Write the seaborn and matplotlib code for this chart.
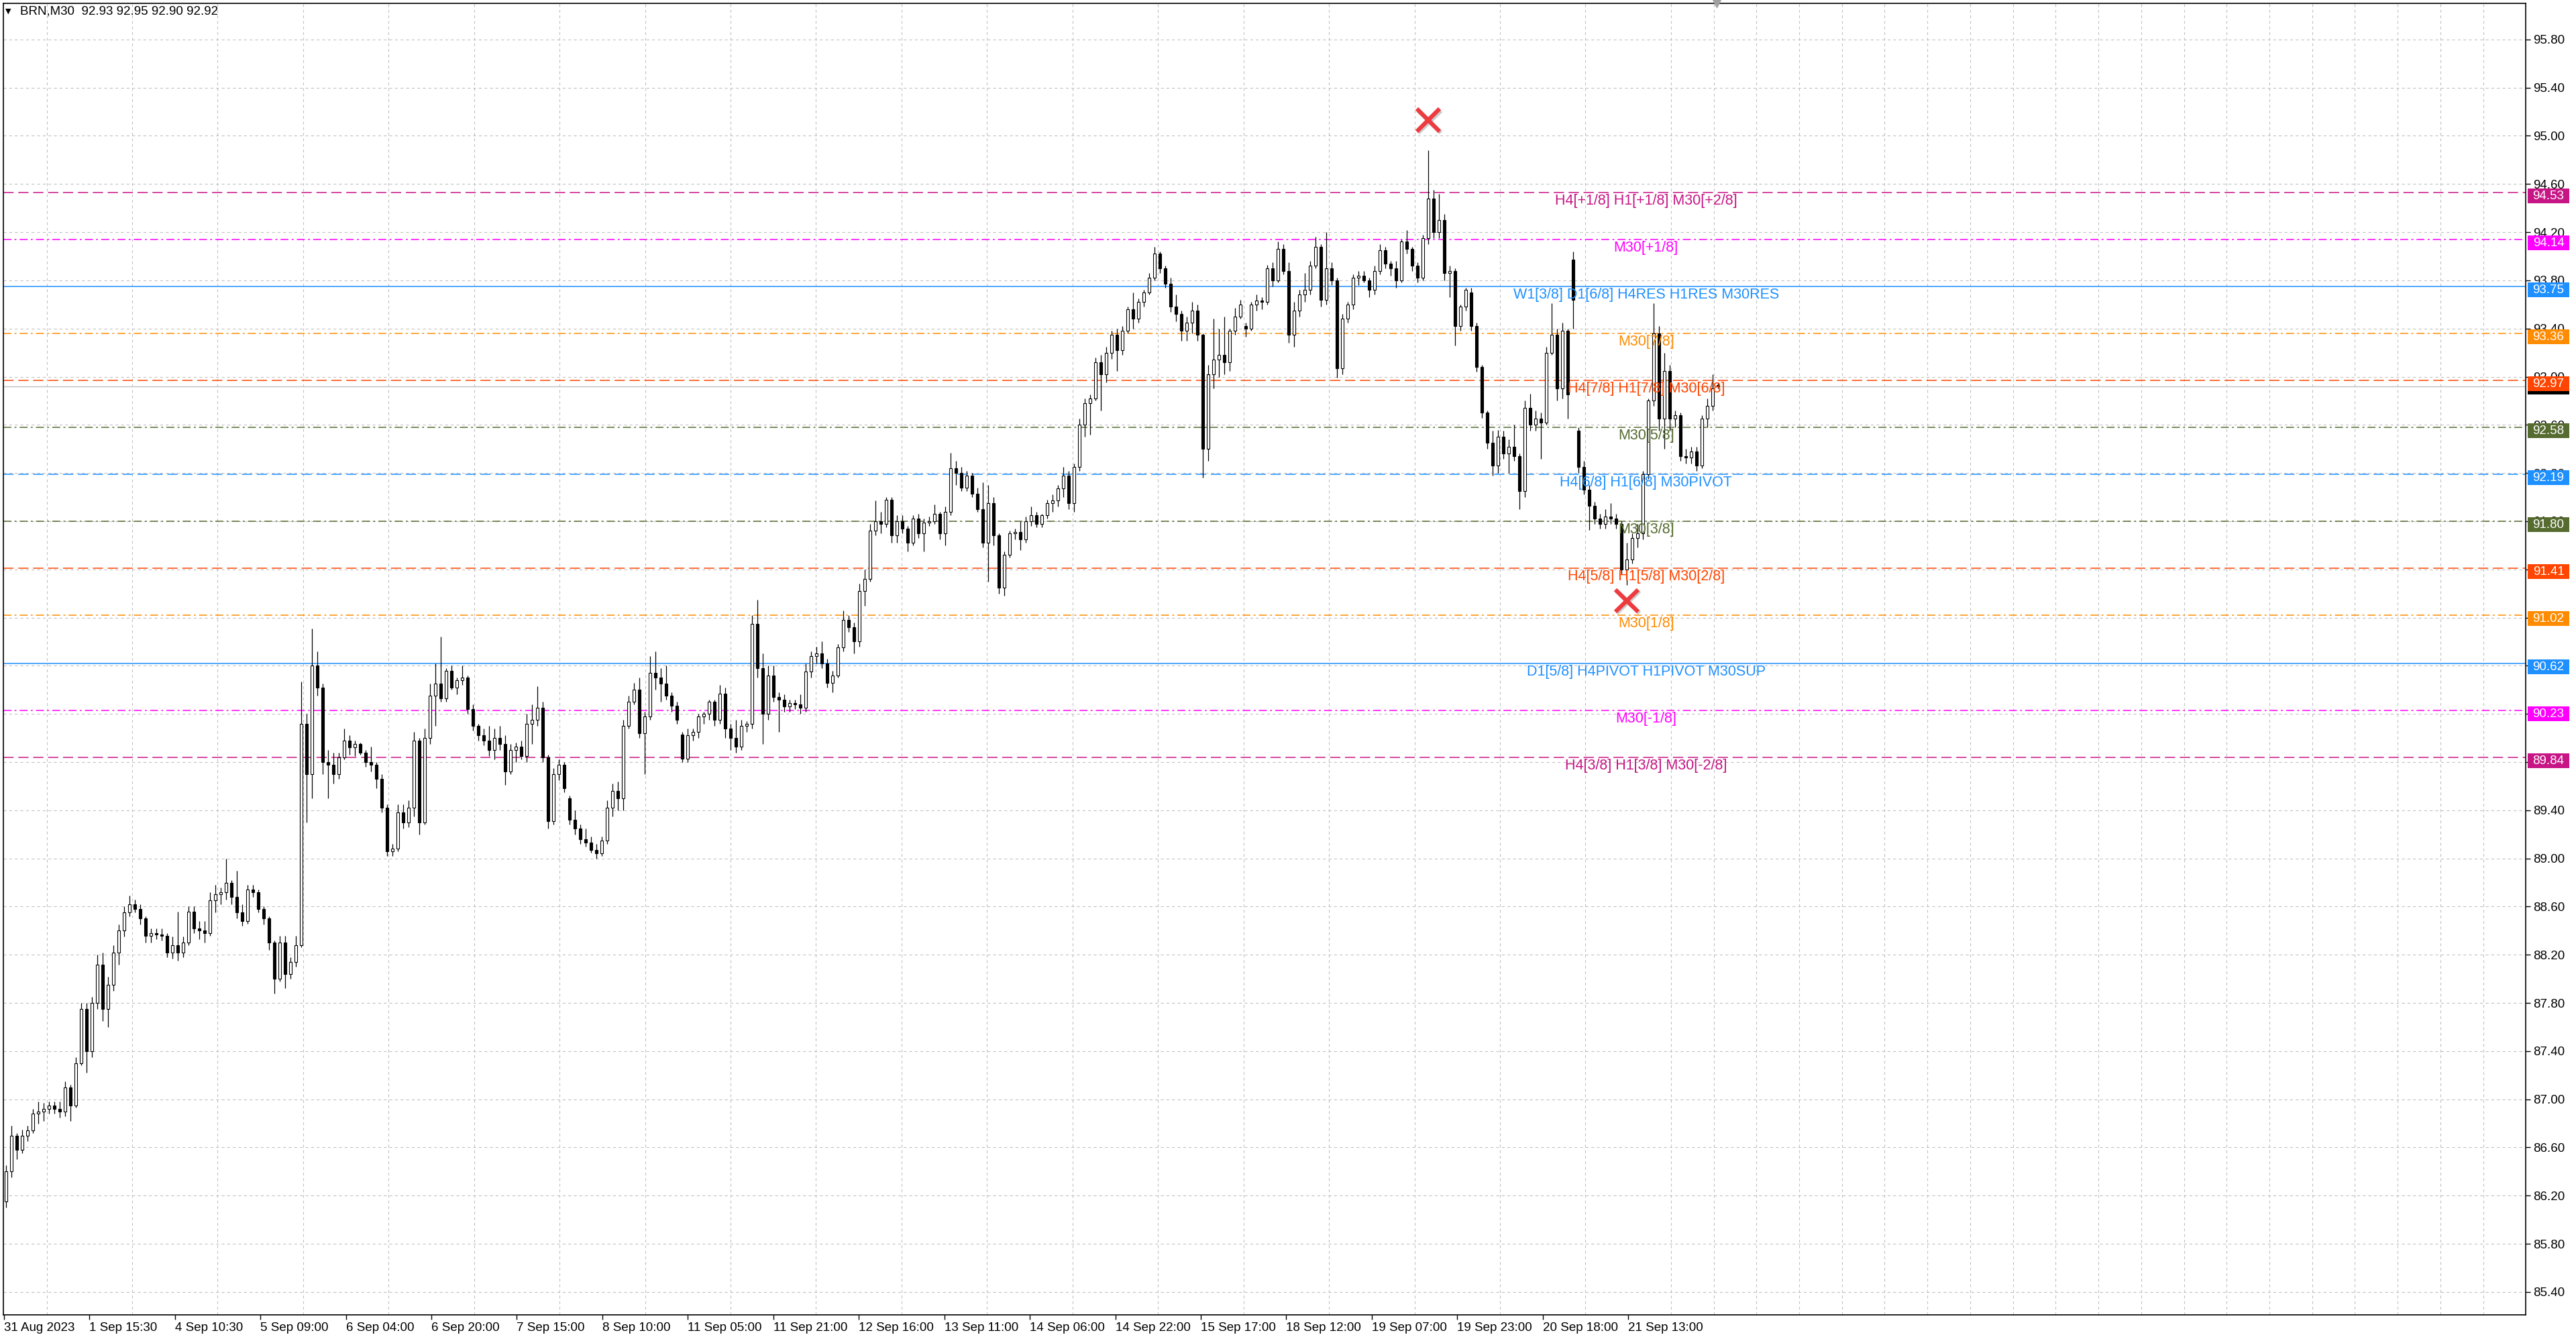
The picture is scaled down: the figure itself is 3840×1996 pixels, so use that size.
import numpy as np
import pandas as pd
import matplotlib
matplotlib.use("Agg")
import matplotlib.pyplot as plt
import matplotlib.transforms as mtransforms
import matplotlib.patheffects as pe
from matplotlib.patches import Rectangle
import seaborn as sns

sns.set_theme(style="white")
plt.rcParams['font.family'] = ['Liberation Sans', 'DejaVu Sans']
plt.rcParams['lines.scale_dashes'] = False

# BRN M30 candles (one candle per hour)
opens = [
    86.15, 86.40, 86.70, 86.58, 86.70, 86.74, 86.88, 86.90, 86.92, 86.95,
    86.92, 86.90, 87.10, 86.95, 87.30, 87.75, 87.40, 87.80, 88.12, 87.75,
    87.95, 88.22, 88.40, 88.55, 88.62, 88.58, 88.50, 88.36, 88.38, 88.37,
    88.36, 88.22, 88.28, 88.22, 88.30, 88.56, 88.42, 88.40, 88.38, 88.65,
    88.70, 88.72, 88.80, 88.68, 88.55, 88.48, 88.74, 88.72, 88.58, 88.50,
    88.30, 88.00, 88.30, 88.04, 88.14, 88.28, 90.12, 89.70, 90.60, 90.42,
    89.80, 89.78, 89.70, 89.84, 89.98, 89.92, 89.95, 89.88, 89.80, 89.78,
    89.66, 89.42, 89.06, 89.08, 89.38, 89.30, 89.42, 89.98, 89.30, 90.00,
    90.35, 90.45, 90.33, 90.56, 90.42, 90.48, 90.50, 90.24, 90.10, 90.02,
    89.98, 89.90, 90.00, 89.95, 89.72, 89.90, 89.93, 89.85, 90.12, 90.15,
    90.25, 89.84, 89.31, 89.70, 89.78, 89.50, 89.32, 89.25, 89.16, 89.13,
    89.07, 89.04, 89.15, 89.42, 89.56, 89.50, 90.10, 90.30, 90.40, 90.04,
    90.18, 90.54, 90.50, 90.45, 90.35, 90.27, 90.03, 89.83, 90.02, 90.05,
    90.18, 90.20, 90.30, 90.15, 90.37, 90.08, 90.00, 89.93, 90.10, 90.12,
    90.95, 90.58, 90.20, 90.52, 90.34, 90.32, 90.26, 90.29, 90.28, 90.25,
    90.55, 90.68, 90.70, 90.62, 90.46, 90.52, 90.75, 90.98, 90.92, 90.80,
    91.22, 91.32, 91.72, 91.80, 91.78, 91.98, 91.68, 91.80, 91.74, 91.62,
    91.82, 91.70, 91.79, 91.80, 91.86, 91.70, 91.88, 92.24, 92.20, 92.08,
    92.18, 92.03, 91.90, 91.62, 91.95, 91.68, 91.25, 91.52, 91.70, 91.71,
    91.65, 91.80, 91.85, 91.78, 91.85, 91.95, 91.97, 92.07, 92.18, 91.95,
    92.25, 92.60, 92.78, 92.82, 93.12, 93.02, 93.20, 93.35, 93.22, 93.38,
    93.56, 93.48, 93.62, 93.70, 93.82, 94.02, 93.90, 93.77, 93.58, 93.52,
    93.38, 93.45, 93.55, 93.35, 92.40, 93.02, 93.14, 93.18, 93.12, 93.38,
    93.50, 93.42, 93.40, 93.60, 93.63, 93.62, 93.90, 93.80, 94.06, 93.88,
    93.35, 93.55, 93.68, 93.72, 93.92, 94.08, 93.64, 93.90, 93.80, 93.07,
    93.48, 93.60, 93.82, 93.84, 93.80, 93.72, 93.88, 94.05, 93.94, 93.90,
    93.80, 94.12, 94.06, 93.92, 93.82, 94.15, 94.48, 94.20, 94.30, 93.86,
    93.88, 93.42, 93.58, 93.70, 93.42, 93.08, 92.70, 92.45, 92.26, 92.50,
    92.36, 92.42, 92.34, 92.05, 92.74, 92.60, 92.65, 92.62, 93.20, 93.35,
    92.90, 93.38, 93.97, 92.55, 92.25, 92.06, 91.93, 91.82, 91.78, 91.84,
    91.82, 91.78, 91.40, 91.48, 91.66, 91.70, 92.19, 92.80, 93.36, 92.65,
    93.05, 92.65, 92.68, 92.34, 92.33, 92.38, 92.26, 92.65, 92.76, 92.93,
]
highs = [
    86.45, 86.78, 86.72, 86.75, 86.78, 86.92, 86.98, 86.97, 86.98, 86.98,
    86.98, 87.15, 87.12, 87.35, 87.80, 87.80, 87.85, 88.20, 88.22, 88.02,
    88.28, 88.45, 88.60, 88.69, 88.66, 88.62, 88.52, 88.42, 88.42, 88.42,
    88.38, 88.35, 88.56, 88.35, 88.60, 88.60, 88.48, 88.48, 88.72, 88.78,
    88.76, 89.00, 88.82, 88.90, 88.62, 88.78, 88.78, 88.74, 88.60, 88.52,
    88.32, 88.36, 88.36, 88.18, 88.36, 90.47, 90.20, 90.91, 90.72, 90.45,
    89.90, 89.88, 89.88, 90.08, 90.02, 89.98, 89.96, 89.90, 89.93, 89.80,
    89.70, 89.45, 89.12, 89.45, 89.45, 89.48, 90.05, 90.00, 90.08, 90.45,
    90.62, 90.84, 90.58, 90.60, 90.50, 90.60, 90.52, 90.28, 90.12, 90.08,
    90.10, 90.08, 90.10, 90.02, 89.95, 89.96, 89.98, 90.20, 90.28, 90.43,
    90.30, 89.86, 89.75, 89.82, 89.80, 89.52, 89.40, 89.28, 89.25, 89.18,
    89.12, 89.18, 89.48, 89.62, 89.64, 90.15, 90.35, 90.46, 90.50, 90.22,
    90.68, 90.72, 90.58, 90.60, 90.38, 90.30, 90.05, 90.08, 90.08, 90.20,
    90.22, 90.32, 90.32, 90.44, 90.42, 90.12, 90.15, 90.15, 90.14, 91.02,
    91.15, 90.70, 90.60, 90.60, 90.38, 90.36, 90.32, 90.32, 90.36, 90.62,
    90.72, 90.76, 90.80, 90.66, 90.56, 90.78, 91.06, 91.02, 90.96, 91.28,
    91.40, 91.78, 91.97, 91.88, 92.00, 92.00, 91.85, 91.85, 91.76, 91.85,
    91.86, 91.82, 91.84, 91.94, 91.88, 91.92, 92.37, 92.30, 92.25, 92.22,
    92.20, 92.08, 92.12, 92.10, 92.00, 91.70, 91.55, 91.72, 91.74, 91.80,
    91.84, 91.92, 91.88, 91.86, 91.98, 92.02, 92.10, 92.25, 92.22, 92.28,
    92.65, 92.82, 92.85, 93.16, 93.18, 93.25, 93.38, 93.40, 93.42, 93.58,
    93.70, 93.65, 93.72, 93.86, 94.08, 94.04, 93.92, 93.82, 93.68, 93.55,
    93.50, 93.62, 93.60, 93.36, 93.10, 93.48, 93.40, 93.50, 93.40, 93.57,
    93.64, 93.45, 93.62, 93.68, 93.66, 93.93, 93.95, 94.12, 94.10, 93.95,
    93.62, 93.72, 93.86, 93.96, 94.16, 94.10, 94.20, 93.95, 93.82, 93.52,
    93.62, 93.85, 93.88, 93.88, 93.82, 93.92, 94.10, 94.08, 93.96, 93.96,
    94.14, 94.22, 94.08, 93.95, 94.18, 94.88, 94.55, 94.52, 94.35, 93.92,
    93.90, 93.60, 93.74, 93.74, 93.45, 93.10, 92.72, 92.55, 92.56, 92.55,
    92.48, 92.60, 92.36, 92.80, 92.86, 92.72, 92.70, 93.25, 93.61, 93.40,
    93.45, 93.40, 94.04, 92.58, 92.30, 92.10, 91.96, 91.86, 91.90, 91.95,
    91.86, 91.80, 91.62, 91.70, 91.78, 92.22, 92.82, 93.61, 93.42, 93.20,
    93.10, 92.72, 92.70, 92.40, 92.42, 92.42, 92.68, 92.82, 93.02, 92.95,
]
lows = [
    86.10, 86.35, 86.50, 86.55, 86.65, 86.72, 86.80, 86.82, 86.88, 86.88,
    86.85, 86.86, 86.82, 86.93, 87.28, 87.22, 87.35, 87.75, 87.65, 87.60,
    87.90, 88.12, 88.35, 88.52, 88.55, 88.45, 88.30, 88.30, 88.33, 88.32,
    88.18, 88.17, 88.15, 88.18, 88.28, 88.38, 88.33, 88.30, 88.36, 88.55,
    88.62, 88.66, 88.62, 88.50, 88.44, 88.46, 88.68, 88.55, 88.45, 88.24,
    87.88, 87.98, 87.92, 88.00, 88.10, 88.26, 89.30, 89.50, 90.35, 89.70,
    89.50, 89.62, 89.66, 89.82, 89.86, 89.85, 89.86, 89.76, 89.72, 89.58,
    89.38, 89.02, 89.02, 89.06, 89.25, 89.26, 89.35, 89.20, 89.28, 89.95,
    90.10, 90.30, 90.30, 90.40, 90.36, 90.44, 90.20, 90.06, 89.98, 89.94,
    89.85, 89.82, 89.90, 89.61, 89.70, 89.80, 89.82, 89.80, 89.95, 90.10,
    89.80, 89.25, 89.28, 89.65, 89.55, 89.28, 89.20, 89.12, 89.10, 89.05,
    89.00, 89.02, 89.12, 89.35, 89.40, 89.40, 90.08, 90.28, 90.00, 89.70,
    90.15, 90.40, 90.30, 90.32, 90.22, 90.12, 89.80, 89.80, 89.98, 90.00,
    90.12, 90.15, 90.10, 90.12, 90.00, 89.90, 89.88, 89.90, 90.05, 90.08,
    90.50, 89.95, 90.15, 90.30, 90.05, 90.22, 90.22, 90.24, 90.20, 90.22,
    90.50, 90.62, 90.58, 90.42, 90.38, 90.50, 90.72, 90.88, 90.70, 90.76,
    91.10, 91.30, 91.68, 91.70, 91.75, 91.62, 91.62, 91.70, 91.55, 91.60,
    91.66, 91.55, 91.76, 91.78, 91.65, 91.60, 91.85, 92.10, 92.05, 92.05,
    92.00, 91.88, 91.58, 91.30, 91.60, 91.20, 91.18, 91.50, 91.65, 91.56,
    91.62, 91.76, 91.75, 91.75, 91.82, 91.88, 91.92, 92.00, 91.90, 91.88,
    92.22, 92.50, 92.52, 92.80, 92.72, 92.95, 93.15, 93.05, 93.18, 93.36,
    93.40, 93.45, 93.58, 93.68, 93.80, 93.86, 93.74, 93.54, 93.46, 93.30,
    93.30, 93.36, 93.30, 92.16, 92.30, 92.90, 93.00, 93.02, 93.05, 93.35,
    93.48, 93.33, 93.38, 93.55, 93.56, 93.60, 93.75, 93.78, 93.85, 93.28,
    93.25, 93.50, 93.62, 93.68, 93.90, 93.58, 93.60, 93.76, 92.99, 93.02,
    93.45, 93.56, 93.76, 93.78, 93.66, 93.68, 93.85, 93.90, 93.84, 93.74,
    93.78, 94.02, 93.88, 93.78, 93.80, 94.10, 94.15, 94.15, 93.80, 93.66,
    93.26, 93.38, 93.55, 93.38, 93.04, 92.66, 92.40, 92.18, 92.20, 92.32,
    92.20, 92.30, 91.90, 92.00, 92.55, 92.55, 92.32, 92.60, 93.18, 92.80,
    92.82, 92.65, 93.40, 92.20, 92.02, 91.73, 91.78, 91.74, 91.74, 91.78,
    91.74, 91.36, 91.27, 91.45, 91.58, 91.65, 92.15, 92.76, 92.55, 92.40,
    92.55, 92.58, 92.30, 92.28, 92.28, 92.22, 92.24, 92.58, 92.72, 92.90,
]
closes = [
    86.40, 86.70, 86.58, 86.70, 86.74, 86.88, 86.90, 86.92, 86.95, 86.92,
    86.90, 87.10, 86.95, 87.30, 87.75, 87.40, 87.80, 88.12, 87.75, 87.95,
    88.22, 88.40, 88.55, 88.62, 88.58, 88.50, 88.36, 88.38, 88.37, 88.36,
    88.22, 88.28, 88.22, 88.30, 88.56, 88.42, 88.40, 88.38, 88.65, 88.70,
    88.72, 88.80, 88.68, 88.55, 88.48, 88.74, 88.72, 88.58, 88.50, 88.30,
    88.00, 88.30, 88.04, 88.14, 88.28, 90.12, 89.70, 90.60, 90.42, 89.80,
    89.78, 89.70, 89.84, 89.98, 89.92, 89.95, 89.88, 89.80, 89.78, 89.66,
    89.42, 89.06, 89.08, 89.38, 89.30, 89.42, 89.98, 89.30, 90.00, 90.35,
    90.45, 90.33, 90.56, 90.42, 90.48, 90.50, 90.24, 90.10, 90.02, 89.98,
    89.90, 90.00, 89.95, 89.72, 89.90, 89.93, 89.85, 90.12, 90.15, 90.25,
    89.84, 89.31, 89.70, 89.78, 89.58, 89.32, 89.25, 89.16, 89.13, 89.07,
    89.04, 89.15, 89.42, 89.56, 89.50, 90.10, 90.30, 90.40, 90.04, 90.18,
    90.54, 90.50, 90.45, 90.35, 90.27, 90.15, 89.83, 90.02, 90.05, 90.18,
    90.20, 90.30, 90.15, 90.37, 90.08, 90.00, 89.93, 90.10, 90.12, 90.95,
    90.58, 90.20, 90.52, 90.34, 90.32, 90.26, 90.29, 90.28, 90.25, 90.55,
    90.68, 90.70, 90.62, 90.46, 90.52, 90.75, 90.98, 90.92, 90.80, 91.22,
    91.32, 91.72, 91.80, 91.78, 91.98, 91.68, 91.80, 91.74, 91.62, 91.82,
    91.70, 91.79, 91.80, 91.86, 91.70, 91.88, 92.24, 92.20, 92.08, 92.18,
    92.03, 91.90, 91.62, 91.95, 91.68, 91.25, 91.52, 91.70, 91.71, 91.65,
    91.80, 91.85, 91.78, 91.85, 91.95, 91.97, 92.07, 92.18, 91.95, 92.25,
    92.60, 92.78, 92.82, 93.12, 93.02, 93.20, 93.35, 93.22, 93.38, 93.56,
    93.48, 93.62, 93.70, 93.82, 94.02, 93.90, 93.77, 93.58, 93.52, 93.38,
    93.45, 93.55, 93.35, 92.40, 93.02, 93.14, 93.18, 93.12, 93.38, 93.50,
    93.60, 93.40, 93.60, 93.63, 93.62, 93.90, 93.80, 94.06, 93.88, 93.35,
    93.55, 93.68, 93.72, 93.92, 94.08, 93.64, 93.90, 93.80, 93.07, 93.48,
    93.60, 93.82, 93.84, 93.80, 93.72, 93.88, 94.05, 93.94, 93.90, 93.80,
    94.12, 94.06, 93.92, 93.82, 94.15, 94.48, 94.20, 94.30, 93.86, 93.88,
    93.42, 93.58, 93.72, 93.42, 93.08, 92.70, 92.45, 92.26, 92.50, 92.36,
    92.42, 92.34, 92.05, 92.74, 92.60, 92.65, 92.62, 93.20, 93.35, 92.90,
    93.38, 92.85, 93.64, 92.25, 92.06, 91.93, 91.82, 91.78, 91.84, 91.82,
    91.78, 91.40, 91.48, 91.66, 91.70, 92.19, 92.80, 93.36, 92.65, 93.05,
    92.65, 92.68, 92.34, 92.33, 92.38, 92.26, 92.65, 92.76, 92.90, 92.92,
]

time_labels = ["31 Aug 2023", "1 Sep 15:30", "4 Sep 10:30", "5 Sep 09:00", "6 Sep 04:00",
               "6 Sep 20:00", "7 Sep 15:00", "8 Sep 10:00", "11 Sep 05:00", "11 Sep 21:00",
               "12 Sep 16:00", "13 Sep 11:00", "14 Sep 06:00", "14 Sep 22:00", "15 Sep 17:00",
               "18 Sep 12:00", "19 Sep 07:00", "19 Sep 23:00", "20 Sep 18:00", "21 Sep 13:00"]

# murrey math levels
level_prices = [94.53, 94.14, 93.75, 93.36, 92.97, 92.58, 92.19, 91.80, 91.41, 91.02, 90.62, 90.23, 89.84]
level_names = ["H4[+1/8] H1[+1/8] M30[+2/8]", "M30[+1/8]", "W1[3/8] D1[6/8] H4RES H1RES M30RES",
               "M30[7/8]", "H4[7/8] H1[7/8] M30[6/8]", "M30[5/8]", "H4[6/8] H1[6/8] M30PIVOT",
               "M30[3/8]", "H4[5/8] H1[5/8] M30[2/8]", "M30[1/8]", "D1[5/8] H4PIVOT H1PIVOT M30SUP",
               "M30[-1/8]", "H4[3/8] H1[3/8] M30[-2/8]"]
level_colors = ["#C71585", "#FF00FF", "#1E90FF", "#FF8C00", "#FF4500", "#556B2F", "#1E90FF",
                "#556B2F", "#FF4500", "#FF8C00", "#1E90FF", "#FF00FF", "#C71585"]
level_kinds = ["dash", "dashdot", "solid", "dashdot", "dash", "dashdot", "dash",
               "dashdot", "dash", "dashdot", "solid", "dashdot", "dash"]

last_price = 92.92
cross_bars = [265, 302]
cross_prices = [95.13, 91.14]

styles = {"dash": (0, (11, 5)), "dashdot": (0, (8.5, 3.5, 2, 3.5)), "solid": "-"}

df = pd.DataFrame({"open": opens, "high": highs, "low": lows, "close": closes})
df["bar"] = np.arange(len(df))
up = df[df.close >= df.open]
dn = df[df.close < df.open]

fig = plt.figure(figsize=(38.4, 19.96), dpi=100)
ax = fig.add_axes([5 / 3840, 36 / 1996, 3760 / 3840, 1955 / 1996])
ax.set_facecolor("white")

# grid
yticks = np.round(np.arange(85.40, 95.81, 0.40), 2)
ax.set_yticks(yticks)
ax.set_yticklabels([f"{v:.2f}" for v in yticks])
tick_pos = -0.4 + 15.93 * np.arange(len(time_labels))
ax.set_xticks(tick_pos)
ax.set_xticklabels(time_labels, ha="left")
ax.set_xticks(-0.4 + 7.965 * np.arange(60), minor=True)
ax.grid(axis="y", which="major", color="#C0C0C0", linestyle=(0, (3, 3)), lw=0.8)
ax.grid(axis="x", which="minor", color="#C0C0C0", linestyle=(0, (3, 3)), lw=0.8)
ax.set_axisbelow(True)

# current price line
ax.axhline(last_price, color="#C0C0C0", lw=1.0, zorder=1.5)

# levels
for p, name, col, kind in zip(level_prices, level_names, level_colors, level_kinds):
    ax.axhline(p, color=col, linestyle=styles[kind], lw=1.1, zorder=2)
    ax.text(305.6, p - 0.012, name, color=col, ha="center", va="top", fontsize=15.5, zorder=6)

# candles
ax.vlines(df.bar, df.low, df.high, color="black", lw=0.9, zorder=3)
ax.bar(up.bar, (up.close - up.open).clip(lower=0.008), bottom=up.open, width=0.5,
       color="white", edgecolor="black", linewidth=0.8, zorder=4)
ax.bar(dn.bar, (dn.open - dn.close).clip(lower=0.008), bottom=dn.close, width=0.5,
       color="black", edgecolor="black", linewidth=0.8, zorder=4)

# red crosses
ax.plot(cross_bars, cross_prices, linestyle="none", marker="x", markersize=24, mew=4.5,
        color="#EE3B3F", zorder=7,
        path_effects=[pe.SimpleLineShadow(offset=(1.5, -1.5), shadow_color="#999999", alpha=0.5),
                      pe.Normal()])

ax.set_xlim(-0.5, 469.5)
ax.set_ylim(85.21, 96.10)

# axis styling
ax.yaxis.tick_right()
ax.tick_params(axis="y", which="major", right=True, length=5, width=1, pad=3,
               labelsize=13.5, colors="black", direction="out")
ax.tick_params(axis="x", which="major", bottom=True, length=5, width=1, pad=3,
               labelsize=13.5, colors="black", direction="out")
ax.tick_params(axis="x", which="minor", length=0)
for s in ax.spines.values():
    s.set_color("black")
    s.set_linewidth(1.2)

# price boxes on the right scale
trans = mtransforms.blended_transform_factory(ax.transAxes, ax.transData)
box_h = 22 / 179.5
box_w = 62 / 3760
box_x = 1.0008
ax.add_patch(Rectangle((box_x, last_price - 0.005 - box_h / 2), box_w, box_h, transform=trans,
                       facecolor="black", edgecolor="none", clip_on=False, zorder=9))
for p, col in zip(level_prices, level_colors):
    ax.add_patch(Rectangle((box_x, p - 0.03 - box_h / 2), box_w, box_h, transform=trans,
                           facecolor=col, edgecolor="none", clip_on=False, zorder=10))
    ax.text(box_x + box_w / 2, p - 0.03, f"{p:.2f}", transform=trans, color="white",
            ha="center", va="center", fontsize=13.5, clip_on=False, zorder=11)

# header and shift marker
fig.text(12 / 3840, 1 - 17 / 1996, "\u25BC", fontsize=8, va="center", ha="center",
         family=["DejaVu Sans"], color="black")
fig.text(30 / 3840, 1 - 17 / 1996, "BRN,M30  92.93 92.95 92.90 92.92", fontsize=13.5,
         va="center", ha="left", color="black")
ax.plot([318.8], [1.0], marker="v", color="#A0A0A0", markersize=9, clip_on=False,
        transform=mtransforms.blended_transform_factory(ax.transData, ax.transAxes), zorder=12)

fig.savefig("out.png", dpi=100, facecolor="white")
